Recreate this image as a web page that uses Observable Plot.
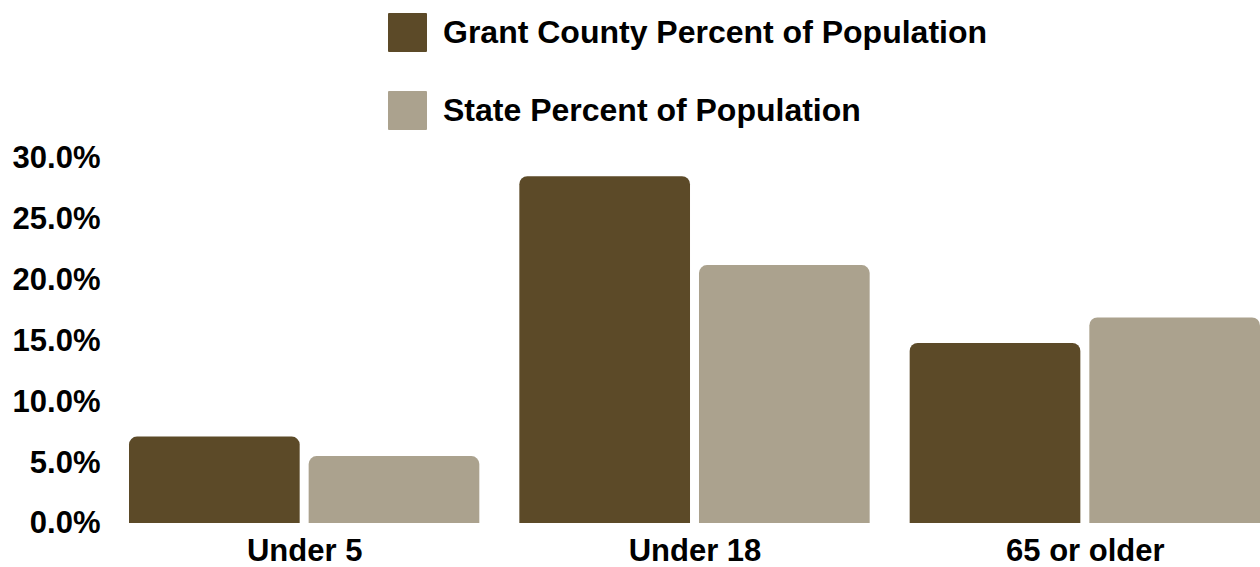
<!DOCTYPE html>
<html>
<head>
<meta charset="utf-8">
<script src="https://cdn.jsdelivr.net/npm/d3@7"></script>
<script src="https://cdn.jsdelivr.net/npm/@observablehq/plot@0.6"></script>
<style>
  html, body { margin: 0; padding: 0; background: #fff; }
  body { width: 1260px; height: 567px; overflow: hidden; font-family: "Liberation Sans", Arial, sans-serif; }
  #legend { position: relative; height: 140px; }
  .item { position: absolute; left: 388px; display: flex; align-items: center; font-size: 32px; font-weight: bold; color: #000; }
  .sw { width: 39px; height: 39px; margin-right: 16px; border-radius: 1px; }
</style>
</head>
<body>
<div id="legend"></div>
<div id="chart"></div>
<script>
const groups = ["Under 5", "Under 18", "65 or older"];
const seriesNames = ["Grant County Percent of Population", "State Percent of Population"];
const colors = ["#5C4A28", "#ABA28E"];
const grantValues = [7.1, 28.5, 14.8];
const stateValues = [5.5, 21.2, 16.9];
const yTicks = [0, 5, 10, 15, 20, 25, 30];

const data = [];
groups.forEach((g, i) => {
  data.push({group: g, series: seriesNames[0], value: grantValues[i]});
  data.push({group: g, series: seriesNames[1], value: stateValues[i]});
});

// legend
const legend = document.getElementById("legend");
const legendTops = [13, 91];
seriesNames.forEach((s, i) => {
  const d = document.createElement("div");
  d.className = "item";
  d.style.top = legendTops[i] + "px";
  d.innerHTML = `<span class="sw" style="background:${colors[i]}"></span><span>${s}</span>`;
  legend.appendChild(d);
});

const chart = Plot.plot({
  width: 1260,
  height: 427,
  marginTop: 18,
  marginBottom: 44,
  marginLeft: 129,
  marginRight: 0,
  style: {fontFamily: "Liberation Sans, Arial, sans-serif", fontWeight: "bold", fontSize: "31px", color: "#000", background: "#fff", overflow: "visible"},
  fx: {domain: groups, paddingInner: 0.1025, paddingOuter: 0, round: false, axis: "bottom", tickSize: 0, tickPadding: 15, label: null},
  x: {domain: seriesNames, paddingInner: 0.05, paddingOuter: 0, round: false, axis: null},
  y: {domain: [0, 30], ticks: yTicks, tickFormat: d => d.toFixed(1) + "%", tickSize: 0, tickPadding: 29, label: null},
  color: {domain: seriesNames, range: colors},
  marks: [
    Plot.barY(data, {fx: "group", x: "series", y: "value", fill: "series", ry1: 8, rx: 0})
  ]
});
document.getElementById("chart").appendChild(chart);
</script>
</body>
</html>
